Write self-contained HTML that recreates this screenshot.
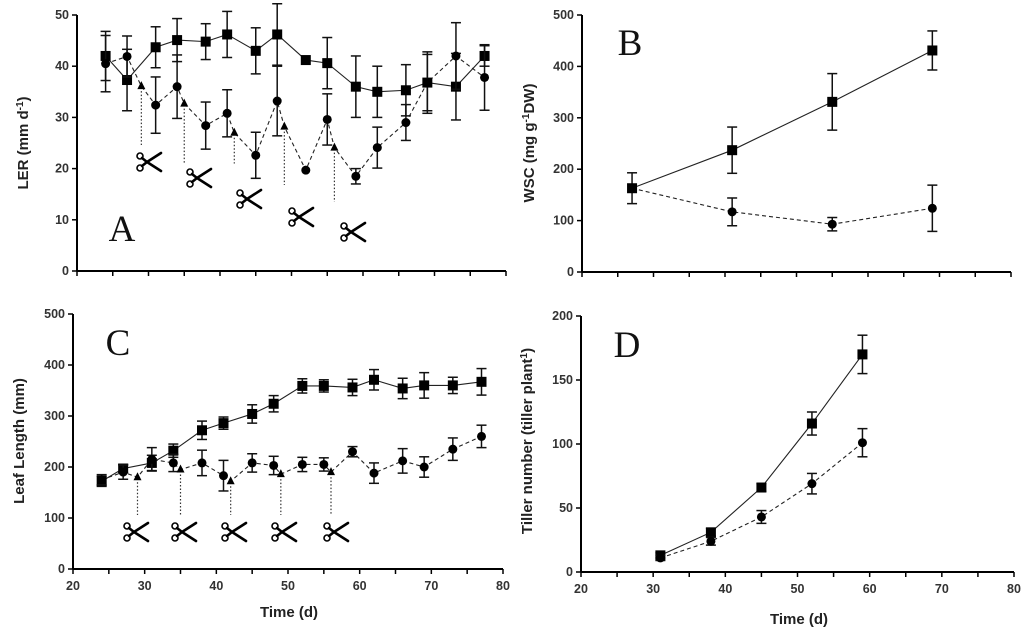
<!DOCTYPE html>
<html><head><meta charset="utf-8"><style>
html,body{margin:0;padding:0;background:#fff;}
svg{display:block;font-family:"Liberation Sans",Arial,sans-serif;}
.tick{font-size:12.5px;font-weight:bold;fill:#333;}
.ttl{font-size:15px;font-weight:bold;fill:#222;}
.let{font-family:"Liberation Serif",serif;font-size:37px;fill:#111;}
</style></head><body>
<svg id="fig" width="1024" height="636" viewBox="0 0 1024 636" xmlns="http://www.w3.org/2000/svg"></svg>
<script>
// Panel A: LER
const aDays = [24,27,31,34,38,41,45,48,52,55,59,62,66,69,73,77];
const aSq = [42,37.3,43.7,45.1,44.8,46.2,43,46.2,41.2,40.6,36,35,35.3,36.8,36,42];
const aSqErr = [4.8,6,4,4.2,3.5,4.5,4.5,6,0.5,5,6,5,5,6,6.5,2];
const aCi = [40.5,41.9,32.4,36,28.4,30.8,22.6,33.2,19.7,29.6,18.5,24.1,29,36.8,42,37.8];
const aCiErr = [5.5,4,5.5,6.2,4.6,4.6,4.5,6.8,0.5,5,1.5,4,3.5,5.5,6.5,6.4];
const aTriDays = [29,35,42,49,56];
const aTri = [36.1,32.7,27,28.2,24.1];
const aCut = [24.6,21,21,16.8,13.5];
// Panel B: WSC
const bDays = [27,41,55,69];
const bSq = [163,237,331,431];
const bSqErr = [30,45,55,38];
const bCi = [163,117,93,124];
const bCiErr = [0,27,13,45];
// Panel C: Leaf length
const cDays = [24,27,31,34,38,41,45,48,52,55,59,62,66,69,73,77];
const cSq = [172,197,208,232,272,286,304,324,359,359,356,371,354,360,360,367];
const cSqErr = [10,8,15,13,18,12,18,16,14,12,16,20,20,25,16,26];
const cCi = [175,190,215,208,208,183,208,203,205,205,230,188,212,200,235,260];
const cCiErr = [10,14,23,17,25,30,18,18,14,13,10,20,24,20,22,22];
const cTriDays = [29,35,42,49,56];
const cTri = [180,195,172,186,190];
const cCut = [106,106,106,106,106];
// Panel D: Tillers
const dDays = [31,38,45,52,59];
const dSq = [13,31,66,116,170];
const dSqErr = [2,3,3,9,15];
const dCi = [11,24,43,69,101];
const dCiErr = [2,3,5,8,11];
// Axis ticks
const xTicks = [20,30,40,50,60,70,80];
const aYTicks = [0,10,20,30,40,50];
const bYTicks = [0,100,200,300,400,500];
const cYTicks = [0,100,200,300,400,500];
const dYTicks = [0,50,100,150,200];

const NS='http://www.w3.org/2000/svg';
const svg=document.getElementById('fig');
function mk(tag,attrs,parent,text){const e=document.createElementNS(NS,tag);for(const k in attrs)e.setAttribute(k,attrs[k]);if(text!==undefined)e.textContent=text;(parent||svg).appendChild(e);return e;}

function panel(id,box,yTicks,showX){
  const g=mk('g',{});
  
  
  const ymax=yTicks[yTicks.length-1];
  const sx=v=>box.x0+(v-20)/60*(box.x1-box.x0);
  const sy=v=>box.y1-v/ymax*(box.y1-box.y0);
  const ax=mk('g',{},g);
  
  
  mk('line',{x1:box.x0,y1:box.y0,x2:box.x0,y2:box.y1,stroke:'#000','stroke-width':2},ax);
  mk('line',{x1:box.x0,y1:box.y1,x2:box.x1,y2:box.y1,stroke:'#000','stroke-width':2},ax);
  yTicks.forEach(t=>{
    mk('line',{x1:box.x0-5,y1:sy(t),x2:box.x0,y2:sy(t),stroke:'#000','stroke-width':1.5},ax);
    const tl=mk('text',{x:box.x0-8,y:sy(t)+4,'text-anchor':'end',class:'tick'},ax,String(t));
    
    
  });
  for(let v=20;v<=80;v+=5){
    mk('line',{x1:sx(v),y1:box.y1,x2:sx(v),y2:box.y1+5,stroke:'#000','stroke-width':1.5},ax);
  }
  if(showX){xTicks.forEach(t=>{
    const tl=mk('text',{x:sx(t),y:box.y1+21,'text-anchor':'middle',class:'tick'},ax,String(t));
    
    
  });}
  return {g,sx,sy};
}
function series(p,name,days,vals,errs,marker,dash){
  const g=mk('g',{},p.g);
  
  
  errs.forEach((e,i)=>{ if(e<=0.6) return;
    const x=p.sx(days[i]),a=p.sy(vals[i]+e),b=p.sy(vals[i]-e);
    mk('line',{x1:x,y1:a,x2:x,y2:b,stroke:'#111','stroke-width':1.5},g);
    mk('line',{x1:x-5,y1:a,x2:x+5,y2:a,stroke:'#111','stroke-width':1.5},g);
    mk('line',{x1:x-5,y1:b,x2:x+5,y2:b,stroke:'#111','stroke-width':1.5},g);
  });
  if(dash!==null){
    const pts=days.map((d,i)=>p.sx(d)+','+p.sy(vals[i])).join(' ');
    mk('polyline',{points:pts,fill:'none',stroke:'#222','stroke-width':1.1,'stroke-dasharray':dash||'none'},g);
  }
  days.forEach((d,i)=>{
    const x=p.sx(d),y=p.sy(vals[i]);let m;
    if(marker==='sq') m=mk('rect',{x:x-5,y:y-5,width:10,height:10,fill:'#000'},g);
    else if(marker==='ci') m=mk('circle',{cx:x,cy:y,r:4.5,fill:'#000'},g);
    else m=mk('polygon',{points:`${x},${y-5} ${x-4},${y+3} ${x+4},${y+3}`,fill:'#000'},g);
    
    
  });
}
function mergeLine(p,name,d1,v1,d2,v2){
  const pts=d1.map((d,i)=>[d,v1[i]]).concat(d2.map((d,i)=>[d,v2[i]])).sort((a,b)=>a[0]-b[0]);
  const l=mk('polyline',{points:pts.map(q=>p.sx(q[0])+','+p.sy(q[1])).join(' '),fill:'none',stroke:'#222','stroke-width':1.1,'stroke-dasharray':'4,3'},p.g);
  
  
}
function cuts(p,days,tops,bots){
  days.forEach((d,i)=>{
    const x=p.sx(d);
    const l=mk('line',{x1:x,y1:p.sy(tops[i])+5,x2:x,y2:p.sy(bots[i]),stroke:'#333','stroke-width':1.2,'stroke-dasharray':'1.5,2'},p.g);
    
    
  });
}
function scissors(cx,cy){
  const g=mk('g',{transform:`translate(${cx},${cy})`});
  
  
  mk('circle',{cx:-8,cy:-6,r:3,fill:'#fff',stroke:'#000','stroke-width':1.6},g);
  mk('circle',{cx:-8,cy:6,r:3,fill:'#fff',stroke:'#000','stroke-width':1.6},g);
  mk('path',{d:'M-6,-4 L-1,0 L13,-9 M-6,4 L-1,0 L13,9',fill:'none',stroke:'#000','stroke-width':2.6,'stroke-linecap':'round'},g);
}
function label(x,y,txt,rot,cls,name){
  const t=mk('text',{x:x,y:y,'text-anchor':'middle',class:cls,transform:rot?`rotate(-90 ${x} ${y})`:''});
  t.innerHTML=txt;
  
  
}

// A
const pA=panel('a',{x0:77,x1:506,y0:15,y1:271},aYTicks,false);
mergeLine(pA,'line-a-cut',aDays,aCi,aTriDays,aTri);
series(pA,'series-a-control',aDays,aSq,aSqErr,'sq','');
series(pA,'series-a-cut',aDays,aCi,aCiErr,'ci',null);
series(pA,'series-a-harvest',aTriDays,aTri,[0,0,0,0,0],'tri',null);
cuts(pA,aTriDays,aTri,aCut);
[[148,162],[198,178],[248,199],[300,217],[352,232]].forEach(s=>scissors(s[0],s[1]));
label(122,241,'A',false,'let','panel-letter-a');
label(28,143,'LER (mm d<tspan dy="-5" font-size="10">-1</tspan><tspan dy="5">)</tspan>',true,'ttl','y-axis-title-a');

// B
const pB=panel('b',{x0:582,x1:1011,y0:15,y1:272},bYTicks,false);
series(pB,'series-b-control',bDays,bSq,bSqErr,'sq','');
series(pB,'series-b-cut',bDays,bCi,bCiErr,'ci','4,3');
label(630,55,'B',false,'let','panel-letter-b');
label(534,143,'WSC (mg g<tspan dy="-5" font-size="10">-1</tspan><tspan dy="5">DW)</tspan>',true,'ttl','y-axis-title-b');

// C
const pC=panel('c',{x0:73,x1:503,y0:314,y1:569},cYTicks,true);
mergeLine(pC,'line-c-cut',cDays,cCi,cTriDays,cTri);
series(pC,'series-c-control',cDays,cSq,cSqErr,'sq','');
series(pC,'series-c-cut',cDays,cCi,cCiErr,'ci',null);
series(pC,'series-c-harvest',cTriDays,cTri,[0,0,0,0,0],'tri',null);
cuts(pC,cTriDays,cTri,cCut);
[135,183,233,283,335].forEach(x=>scissors(x,532));
label(118,355,'C',false,'let','panel-letter-c');
label(24,441,'Leaf Length (mm)',true,'ttl','y-axis-title-c');
label(289,617,'Time (d)',false,'ttl','x-axis-title-c');

// D
const pD=panel('d',{x0:581,x1:1014,y0:316,y1:572},dYTicks,true);
series(pD,'series-d-control',dDays,dSq,dSqErr,'sq','');
series(pD,'series-d-cut',dDays,dCi,dCiErr,'ci','4,3');
label(627,357,'D',false,'let','panel-letter-d');
label(532,441,'Tiller number (tiller plant<tspan dy="-5" font-size="10">1</tspan><tspan dy="5">)</tspan>',true,'ttl','y-axis-title-d');
label(799,624,'Time (d)',false,'ttl','x-axis-title-d');
</script>
</body></html>
